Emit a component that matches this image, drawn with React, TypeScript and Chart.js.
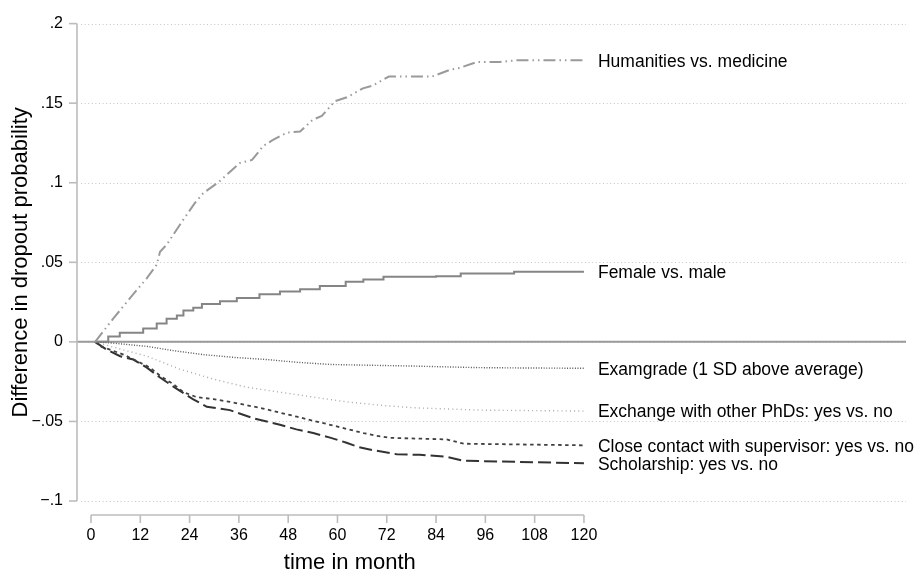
import React, { useEffect, useRef } from "react";
import { Chart, registerables } from "chart.js";

Chart.register(...registerables);

const FONT = '"Liberation Sans", Arial, Helvetica, sans-serif';

// ---- axis ticks ----
const xTicks = [0, 12, 24, 36, 48, 60, 72, 84, 96, 108, 120];
const yTicks = [-0.1, -0.05, 0, 0.05, 0.1, 0.15, 0.2];
const yTickLabels = ["\u2212.1", "\u2212.05", "0", ".05", ".1", ".15", ".2"];

const xTitle = "time in month";
const yTitle = "Difference in dropout probability";

// ---- series ----
const humanitiesMonths = [1, 5.4, 10.3, 13.6, 16, 16.8, 18.4, 22, 25.3, 27.3, 31.2, 33.1, 36.3, 39.2, 41.9, 44.1, 47.7, 50.9, 54, 56.2, 59.4, 62.3, 66.2, 68.6, 72.5, 83, 87.4, 89.8, 94, 99.6, 103.7, 120];
const humanitiesValues = [0, 0.0146, 0.03, 0.04, 0.0485, 0.0566, 0.061, 0.075, 0.0873, 0.0934, 0.1007, 0.1051, 0.1125, 0.1143, 0.123, 0.1266, 0.1315, 0.1322, 0.1396, 0.142, 0.1513, 0.1537, 0.1593, 0.1611, 0.1667, 0.1667, 0.171, 0.1722, 0.1759, 0.1759, 0.177, 0.177];

const femaleMonths = [1, 4.2, 7, 12.7, 16, 18.4, 20.9, 22.5, 24.9, 27, 31.4, 35.5, 41, 46, 50.9, 55.7, 62, 66.3, 71.2, 84, 90, 103, 120];
const femaleValues = [0, 0.0033, 0.0058, 0.0084, 0.0115, 0.0146, 0.0166, 0.0197, 0.0214, 0.0238, 0.0255, 0.0275, 0.03, 0.0316, 0.0331, 0.0351, 0.0378, 0.0392, 0.0409, 0.0413, 0.0429, 0.044, 0.044];

const examMonths = [1, 5.4, 13.6, 20, 27.3, 35, 42.8, 50, 58.2, 66, 78.5, 86, 94.7, 105, 120];
const examValues = [0, -0.0008, -0.0028, -0.0055, -0.008, -0.0098, -0.0111, -0.0128, -0.0142, -0.0146, -0.0152, -0.0157, -0.0162, -0.0164, -0.0166];

const exchangeMonths = [1, 5, 13.6, 21.7, 29.8, 37.9, 46, 54.1, 62.2, 70.3, 78.5, 94.7, 120];
const exchangeValues = [0, -0.003, -0.009, -0.0172, -0.0234, -0.0285, -0.0316, -0.0347, -0.0377, -0.0398, -0.0414, -0.0429, -0.0435];

const contactMonths = [1, 2.5, 4.6, 7.9, 11.1, 14.4, 16.8, 20, 22.5, 25.7, 29.8, 33.8, 37.9, 41.9, 46, 50.1, 54.1, 58.2, 62.2, 66.3, 69.5, 72.8, 86.6, 90.7, 120];
const contactValues = [0, -0.003, -0.0049, -0.008, -0.012, -0.0162, -0.0213, -0.0265, -0.0316, -0.0347, -0.036, -0.0377, -0.0398, -0.0419, -0.0445, -0.047, -0.0496, -0.0521, -0.0547, -0.0573, -0.059, -0.0603, -0.0613, -0.064, -0.065];

const scholarshipMonths = [1, 3.8, 7.1, 10.3, 13.6, 16.8, 20.9, 24.9, 28.2, 33.8, 39.5, 46, 50, 54.1, 58, 62.2, 65, 68.7, 74.4, 80, 86.6, 90.7, 120];
const scholarshipValues = [0, -0.0049, -0.009, -0.0111, -0.0162, -0.0224, -0.0296, -0.0361, -0.0408, -0.0429, -0.048, -0.0521, -0.055, -0.0573, -0.06, -0.0634, -0.066, -0.0681, -0.0706, -0.071, -0.0722, -0.0747, -0.0763];

const seriesNames = [
  "Humanities vs. medicine",
  "Female vs. male",
  "Examgrade (1 SD above average)",
  "Exchange with other PhDs: yes vs. no",
  "Close contact with supervisor: yes vs. no",
  "Scholarship: yes vs. no",
];

const toPoints = (xs: number[], ys: number[]) => xs.map((x, i) => ({ x, y: ys[i] }));

const stataPlugin = {
  id: "stataDecor",
  beforeDatasetsDraw(chart: any) {
    const { ctx, chartArea: ca, scales } = chart;
    const x = scales.x;
    const y = scales.y;
    ctx.save();
    // dotted grid lines
    ctx.strokeStyle = "#c6c6c6";
    ctx.lineWidth = 1;
    ctx.setLineDash([1, 2.6]);
    yTicks.forEach((v) => {
      const py = Math.round(y.getPixelForValue(v)) + 0.5;
      ctx.beginPath();
      ctx.moveTo(ca.left + 4, py);
      ctx.lineTo(ca.right, py);
      ctx.stroke();
    });
    ctx.setLineDash([]);
    // zero reference line
    const pz = y.getPixelForValue(0);
    ctx.strokeStyle = "#9a9a9a";
    ctx.lineWidth = 2;
    ctx.beginPath();
    ctx.moveTo(ca.left, pz);
    ctx.lineTo(ca.right, pz);
    ctx.stroke();
    // y axis line + ticks
    ctx.strokeStyle = "#bcbcbc";
    ctx.lineWidth = 1.6;
    const ax = ca.left;
    ctx.beginPath();
    ctx.moveTo(ax, y.getPixelForValue(yTicks[yTicks.length - 1]));
    ctx.lineTo(ax, y.getPixelForValue(yTicks[0]));
    ctx.stroke();
    yTicks.forEach((v) => {
      const py = y.getPixelForValue(v);
      ctx.beginPath();
      ctx.moveTo(ax - 8, py);
      ctx.lineTo(ax, py);
      ctx.stroke();
    });
    // x axis line + ticks (below plot)
    const ay = ca.bottom + 14;
    ctx.beginPath();
    ctx.moveTo(x.getPixelForValue(xTicks[0]), ay);
    ctx.lineTo(x.getPixelForValue(xTicks[xTicks.length - 1]), ay);
    ctx.stroke();
    xTicks.forEach((v) => {
      const px = x.getPixelForValue(v);
      ctx.beginPath();
      ctx.moveTo(px, ay);
      ctx.lineTo(px, ay + 8);
      ctx.stroke();
    });
    ctx.restore();
  },
  afterDatasetsDraw(chart: any) {
    const { ctx, scales } = chart;
    const x = scales.x;
    const y = scales.y;
    ctx.save();
    ctx.fillStyle = "#000";
    ctx.font = `17.5px ${FONT}`;
    ctx.textAlign = "left";
    ctx.textBaseline = "middle";
    chart.data.datasets.forEach((ds: any, i: number) => {
      const last = ds.data[ds.data.length - 1];
      ctx.fillText(seriesNames[i], x.getPixelForValue(last.x) + 14, y.getPixelForValue(last.y) + 1.5);
    });
    // x axis title
    ctx.font = `22px ${FONT}`;
    ctx.textAlign = "center";
    ctx.fillText(xTitle, x.getPixelForValue(63), chart.chartArea.bottom + 62);
    ctx.restore();
  },
};

export default function App() {
  const ref = useRef<HTMLCanvasElement>(null);
  useEffect(() => {
    if (!ref.current) return;
    const chart = new Chart(ref.current, {
      type: "line",
      data: {
        datasets: [
          {
            label: seriesNames[0],
            data: toPoints(humanitiesMonths, humanitiesValues),
            borderColor: "#9a9a9a",
            borderWidth: 2,
            borderDash: [12, 4, 1.5, 4, 1.5, 4],
            pointRadius: 0,
            tension: 0,
          },
          {
            label: seriesNames[1],
            data: toPoints(femaleMonths, femaleValues),
            borderColor: "#858585",
            borderWidth: 2,
            stepped: true,
            pointRadius: 0,
          },
          {
            label: seriesNames[2],
            data: toPoints(examMonths, examValues),
            borderColor: "#555555",
            borderWidth: 1.4,
            borderDash: [1, 1.6],
            pointRadius: 0,
          },
          {
            label: seriesNames[3],
            data: toPoints(exchangeMonths, exchangeValues),
            borderColor: "#a8a8a8",
            borderWidth: 1.4,
            borderDash: [1, 3.2],
            pointRadius: 0,
          },
          {
            label: seriesNames[4],
            data: toPoints(contactMonths, contactValues),
            borderColor: "#404040",
            borderWidth: 1.8,
            borderDash: [3.5, 3.5],
            pointRadius: 0,
          },
          {
            label: seriesNames[5],
            data: toPoints(scholarshipMonths, scholarshipValues),
            borderColor: "#333333",
            borderWidth: 2,
            borderDash: [13, 5],
            pointRadius: 0,
          },
        ],
      },
      options: {
        animation: false,
        responsive: false,
        devicePixelRatio: 1,
        layout: { padding: { top: 14, right: 15, left: 0, bottom: 0 } },
        plugins: { legend: { display: false }, tooltip: { enabled: false } },
        scales: {
          x: {
            type: "linear",
            min: -3.41,
            max: 198.4,
            grid: { display: false, drawTicks: false },
            border: { display: false },
            afterBuildTicks: (s: any) => {
              s.ticks = xTicks.map((v) => ({ value: v }));
            },
            afterFit: (s: any) => {
              s.height = 73;
            },
            ticks: {
              autoSkip: false,
              maxRotation: 0,
              padding: 25,
              color: "#000",
              font: { family: FONT, size: 16 },
              callback: (v: any) => String(v),
            },
          },
          y: {
            type: "linear",
            min: -0.1,
            max: 0.2,
            grid: { display: false, drawTicks: false },
            border: { display: false },
            afterBuildTicks: (s: any) => {
              s.ticks = yTicks.map((v) => ({ value: v }));
            },
            afterFit: (s: any) => {
              s.width = 77;
            },
            ticks: {
              autoSkip: false,
              padding: 14,
              color: "#000",
              font: { family: FONT, size: 16 },
              callback: (v: any) => {
                const i = yTicks.findIndex((t) => Math.abs(t - v) < 1e-9);
                return i >= 0 ? yTickLabels[i] : "";
              },
            },
            title: {
              display: true,
              text: yTitle,
              color: "#000",
              font: { family: FONT, size: 22 },
              padding: { top: 8, bottom: 0 },
            },
          },
        },
      },
      plugins: [stataPlugin],
    });
    return () => chart.destroy();
  }, []);
  return (
    <div style={{ position: "fixed", left: 0, top: 0, width: 921, height: 574, background: "#fff" }}>
      <canvas ref={ref} width={921} height={574} style={{ display: "block", width: 921, height: 574 }} />
    </div>
  );
}
